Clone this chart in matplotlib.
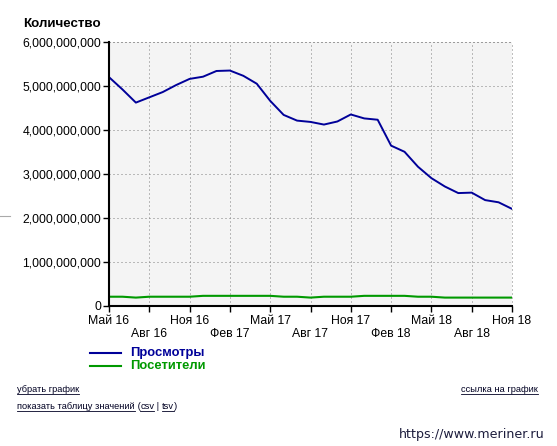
import matplotlib
matplotlib.use("Agg")
import matplotlib.pyplot as plt
from matplotlib.lines import Line2D
from matplotlib.ticker import FuncFormatter

W, H = 557, 446

# monthly data, May 2016 .. Nov 2018 (billions)
months = list(range(31))
views = [5.20, 4.92, 4.62, 4.74, 4.86, 5.02, 5.16, 5.21, 5.34, 5.35, 5.23,
         5.05, 4.66, 4.34, 4.21, 4.18, 4.12, 4.19, 4.35, 4.26, 4.23, 3.64,
         3.50, 3.16, 2.90, 2.71, 2.56, 2.57, 2.40, 2.35, 2.20]
visitors = [0.20, 0.20, 0.18, 0.20, 0.20, 0.20, 0.20, 0.22, 0.22, 0.22, 0.22,
            0.22, 0.22, 0.20, 0.20, 0.18, 0.20, 0.20, 0.20, 0.22, 0.22, 0.22,
            0.22, 0.20, 0.20, 0.18, 0.18, 0.18, 0.18, 0.18, 0.18]
tick_pos = list(range(0, 31, 3))
tick_labels = ["Май 16", "Авг 16", "Ноя 16", "Фев 17", "Май 17", "Авг 17",
               "Ноя 17", "Фев 18", "Май 18", "Авг 18", "Ноя 18"]
series_names = ["Просмотры", "Посетители"]

BLUE = "#000099"
GREEN = "#009900"
FONT = "Liberation Sans"

plt.rcParams["font.family"] = [FONT, "DejaVu Sans"]


def fx(x):
    return x / W


def fy(y):
    return 1 - y / H


fig = plt.figure(figsize=(W / 100, H / 100), dpi=100)
ax = fig.add_axes([fx(109), fy(305.5), fx(512) - fx(109), fy(42) - fy(305.5)])
ax.set_facecolor("#f4f4f4")

ax.plot(months, [v * 1e9 for v in views], color=BLUE, lw=1.4, solid_joinstyle="round", zorder=3)
ax.plot(months, [v * 1e9 for v in visitors], color=GREEN, lw=1.5, zorder=3)

ax.set_xlim(0, 30)
ax.set_ylim(0, 6e9)
ax.set_yticks([i * 1e9 for i in range(7)])
ax.yaxis.set_major_formatter(FuncFormatter(lambda v, p: "{:,}".format(int(round(v)))))
ax.set_xticks(tick_pos)
ax.set_xticklabels([lab if i % 2 == 0 else "\n" + lab for i, lab in enumerate(tick_labels)])
for t in ax.get_xticklabels():
    t.set_linespacing(1.05)

ax.tick_params(axis="both", length=4, width=1, color="black", labelsize=8.8, pad=1.5)
ax.tick_params(axis="x", pad=3)

ax.grid(True, color="#808080", lw=0.72, linestyle=(0, (1, 3)))
ax.set_axisbelow(True)
for s in ["top", "right"]:
    ax.spines[s].set_visible(False)
for s in ["left", "bottom"]:
    ax.spines[s].set_linewidth(1.5)
    ax.spines[s].set_color("black")
    ax.spines[s].set_zorder(4)
# dotted frame on top / right (as grid)
ax.axhline(6e9, color="#808080", lw=0.72, linestyle=(0, (1, 3)), clip_on=False)
ax.axvline(30, color="#808080", lw=0.72, linestyle=(0, (1, 3)), clip_on=False)

fig.text(fx(23), fy(24), "Количество", fontsize=9.6, fontweight="bold", va="center", ha="left")

# small gray mark on the left edge
fig.add_artist(Line2D([fx(0), fx(10)], [fy(215.5), fy(215.5)], color="#aaaaaa", lw=0.8))

# legend
for name, col, yy in [(series_names[0], BLUE, 352.7), (series_names[1], GREEN, 366.3)]:
    fig.add_artist(Line2D([fx(90), fx(121)], [fy(yy), fy(yy)], color=col, lw=1.5))
    fig.text(fx(130.5), fy(yy), name, color=col, fontsize=9.4, fontweight="bold", va="center", ha="left")

# links
renderer = fig.canvas.get_renderer()


def link_text(x, y, pieces):
    # pieces: list of (text, underlined)
    cur = x
    for txt, under in pieces:
        t = fig.text(fx(cur), fy(y), txt, fontsize=6.7, color="#000022", va="baseline", ha="left")
        bb = t.get_window_extent(renderer=renderer)
        if under:
            fig.add_artist(Line2D([bb.x0 / W, bb.x1 / W], [fy(y + 1.5), fy(y + 1.5)], color="#000022", lw=0.6))
        cur = bb.x1


link_text(17, 392, [("убрать график", True)])
link_text(461, 392, [("ссылка на график", True)])
link_text(17, 409, [("показать таблицу значений", True), (" (", False), ("csv", True),
                    (" | ", False), ("tsv", True), (")", False)])

fig.text(fx(545), fy(438), "https://www.meriner.ru", fontsize=9.1, color="#1c1c3c",
         family="DejaVu Sans", ha="right", va="baseline")

fig.savefig("out.png", dpi=100)
